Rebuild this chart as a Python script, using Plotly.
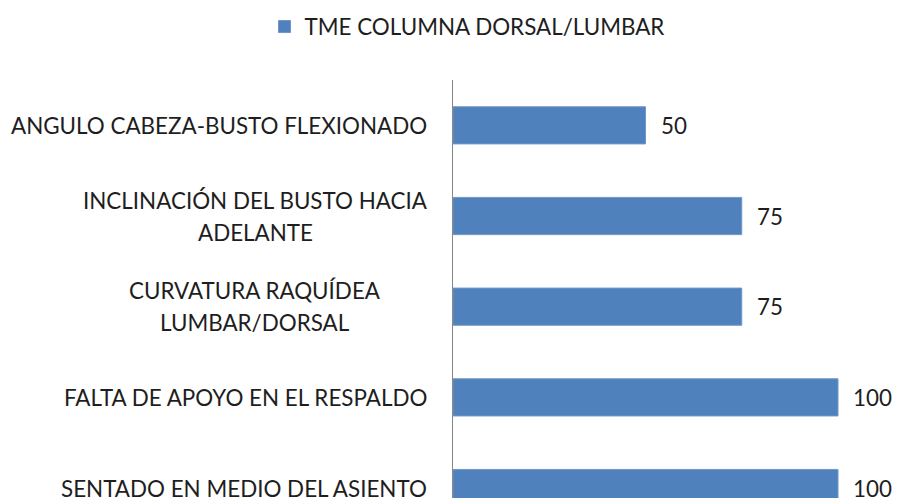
import plotly.graph_objects as go

categories = [
    "ANGULO CABEZA-BUSTO FLEXIONADO",
    "INCLINACIÓN DEL BUSTO HACIA<br>ADELANTE",
    "CURVATURA RAQUÍDEA<br>LUMBAR/DORSAL",
    "FALTA DE APOYO EN EL RESPALDO",
    "SENTADO EN MEDIO DEL ASIENTO",
]
values = [50, 75, 75, 100, 100]
series_name = "TME COLUMNA DORSAL/LUMBAR"

FONT = "Lato"
TXT = "#1e1e1e"
FS = 22.4
LINE_GAP = 32

# the page body adds an 8px offset; the figure is sized to fill the rest
W, H = 892, 490

fig = go.Figure()
fig.add_trace(go.Bar(
    y=list(range(len(categories))),
    x=values,
    orientation="h",
    name=series_name,
    marker=dict(color="#4F81BD", line=dict(color="#6f97c9", width=1)),
    width=0.41,
    showlegend=True,
))

annotations = []
for i, (c, v) in enumerate(zip(categories, values)):
    annotations.append(dict(
        x=v, y=i, xref="x", yref="y", text=str(v), showarrow=False,
        xanchor="left", xshift=13, yshift=0,
        font=dict(family=FONT, size=FS, color=TXT),
    ))
    lines = c.split("<br>")
    n = len(lines)
    for k, ln in enumerate(lines):
        off = ((n - 1) / 2 - k) * LINE_GAP
        if n > 1:
            annotations.append(dict(
                x=0, y=i, xref="x", yref="y", text=ln, showarrow=False,
                xanchor="center", xshift=-198, yshift=off,
                font=dict(family=FONT, size=FS, color=TXT),
            ))
        else:
            annotations.append(dict(
                x=0, y=i, xref="x", yref="y", text=ln, showarrow=False,
                xanchor="right", xshift=-24, yshift=0,
                font=dict(family=FONT, size=FS, color=TXT),
            ))

fig.update_layout(
    width=W, height=H,
    margin=dict(l=445, r=0, t=72, b=0, autoexpand=False),
    plot_bgcolor="white", paper_bgcolor="white",
    font=dict(family=FONT, size=FS, color=TXT),
    showlegend=True,
    legend=dict(orientation="h", x=459 / W, xanchor="center", xref="container",
                y=1 - 19 / H, yanchor="middle", yref="container",
                font=dict(family=FONT, size=FS, color=TXT)),
    xaxis=dict(range=[0, 116.1], showgrid=False, zeroline=False, showline=False,
               showticklabels=False, ticks=""),
    yaxis=dict(range=[4.11, -0.5], showgrid=False, zeroline=False, showline=True,
               linecolor="#868686", linewidth=1, showticklabels=False, ticks=""),
    annotations=annotations,
)

fig.write_html("out.html")
